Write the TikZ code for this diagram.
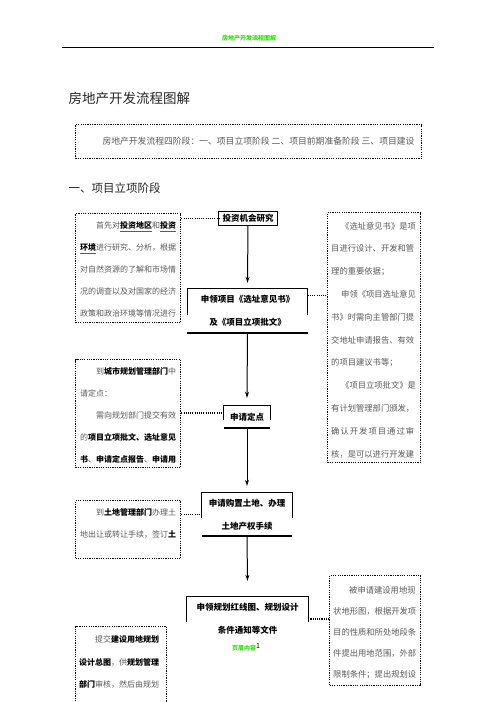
\documentclass[tikz,border=0pt]{standalone}
\usepackage{fontspec}
\setmainfont{Noto Sans CJK SC}
\usepackage{xcolor}
\usepackage{tikz}
\usetikzlibrary{arrows.meta, positioning, calc}
\definecolor{hdrgreen}{HTML}{33DD11}
\definecolor{notegray}{HTML}{5A5A5A}
\newcommand{\kw}[1]{\textbf{\textcolor{black}{#1}}}
\newcommand{\kwu}[1]{\underline{\textbf{\textcolor{black}{#1}}}}

\begin{document}
\begin{tikzpicture}[x=1pt, y=-1pt,
  note/.style={draw=black, line width=1.3pt, dash pattern=on 1.2pt off 1.1pt, inner sep=0pt, anchor=north west},
  notetext/.style={anchor=north west, inner sep=0pt, align=left, text=notegray},
  flow/.style={inner sep=0pt, align=center, font=\fontsize{8.5}{23}\selectfont\bfseries},
  frame/.style={line width=1.1pt},
  rule/.style={line width=1.8pt},
  link/.style={line width=1.2pt, dash pattern=on 1.1pt off 1.1pt},
  arrow/.style={line width=1pt, -{Stealth[length=6pt, width=4pt]}}]
\fill[white] (0,0) rectangle (496,702);
\useasboundingbox (0,0) rectangle (496,702);
% header
\node[font=\fontsize{6}{7}\selectfont\bfseries, text=hdrgreen] (hdr) at (249,38) {房地产开发流程图解};
\draw[line width=0.6pt] (62,47) -- (434,47);
\node[font=\fontsize{13.5}{16}\selectfont, text=black!85, anchor=west] (title) at (65,98) {房地产开发流程图解};
\node[note, minimum width=346, minimum height=34] (intro) at (75,124) {};
\node[font=\fontsize{8.8}{10}\selectfont, text=notegray, anchor=west] (introtxt) at (99,141)
  {房地产开发流程四阶段：一、项目立项阶段 二、项目前期准备阶段 三、项目建设};
\node[font=\fontsize{11.5}{14}\selectfont, text=black!85, anchor=west] (stage1) at (65,188) {一、项目立项阶段};
% main flow
\node[flow, minimum width=58, minimum height=13] (inv) at (248,218.5) {投资机会研究};
\draw[frame] (inv.south west) rectangle (inv.north east);
\node[flow, minimum width=120, minimum height=44] (apply) at (247.5,311) {申领项目《选址意见书》\\及《项目立项批文》};
\draw[frame] ([yshift=-26pt]apply.north west) -- (apply.north west) -- (apply.north east) -- ([yshift=-26pt]apply.north east);
\draw[rule] (apply.south west) -- (apply.south east);
\node[flow, minimum width=46, minimum height=22] (site) at (247,417) {申请定点};
\draw[frame] ([yshift=-14pt]site.north west) -- (site.north west) -- (site.north east) -- ([yshift=-14pt]site.north east);
\draw[rule] (site.south west) -- (site.south east);
\node[flow, minimum width=90, minimum height=43] (land) at (247,514.5) {申请购置土地、办理\\土地产权手续};
\draw[frame] ([yshift=-25pt]land.north west) -- (land.north west) -- (land.north east) -- ([yshift=-25pt]land.north east);
\draw[rule] (land.south west) -- (land.south east);
\node[flow, minimum width=121, minimum height=44] (plan) at (247.5,619) {申领规划红线图、规划设计\\条件通知等文件};
\draw[frame] ([yshift=-25pt]plan.north west) -- (plan.north west) -- (plan.north east) -- ([yshift=-25pt]plan.north east);
\node[font=\fontsize{6}{7}\selectfont\bfseries, text=hdrgreen, inner sep=0pt] (fn) at (246,647)
  {页眉内容\raisebox{2pt}{\textcolor{black}{\mdseries\fontsize{7}{8}\selectfont 1}}};
\draw[arrow] (inv.south) -- ([yshift=6pt]apply.north);
\draw[arrow] (apply.south) -- ([yshift=8pt]site.north);
\draw[arrow] (site.south) -- ([yshift=7pt]land.north);
\draw[arrow] (land.south) -- ([yshift=16pt]plan.north);
% left notes
\node[note, minimum width=105, minimum height=109] (n1) at (75,213) {};
\node[notetext, font=\fontsize{8}{21.8}\selectfont] (n1txt) at (80,221.8)
  {\hspace*{16pt}首先对\kwu{投资地区}和\kwu{投资}\\
   \kwu{环境}进行研究、分析，根据\\
   对自然资源的了解和市场情\\
   况的调查以及对国家的经济\\
   政策和政治环境等情况进行};
\node[note, minimum width=105, minimum height=108] (n2) at (75,359) {};
\node[notetext, font=\fontsize{8}{22}\selectfont] (n2txt) at (80,367.8)
  {\hspace*{16pt}到\kw{城市规划管理部门}中\\
   请定点：\\
   \hspace*{16pt}需向规划部门提交有效\\
   的\kw{项目立项批文、选址意见}\\
   \kw{书}、\kw{申请定点报告}、\kw{申请用}};
\node[note, minimum width=105, minimum height=58] (n3) at (75,500) {};
\node[notetext, font=\fontsize{8}{22}\selectfont] (n3txt) at (80,508.8)
  {\hspace*{16pt}到\kw{土地管理部门}办理土\\
   地出让或转让手续，签订\kw{土}};
\node[note, minimum width=91, minimum height=92] (n4) at (75,626) {};
\node[notetext, font=\fontsize{8}{22.5}\selectfont] (n4txt) at (79,635.8)
  {\hspace*{16pt}提交\kw{建设用地规划}\\
   \kw{设计总图}，供\kw{规划管理}\\
   \kw{部门}审核，然后由规划};
% right notes
\node[note, minimum width=93, minimum height=250] (r1) at (327,212) {};
\node[notetext, font=\fontsize{8.3}{22.8}\selectfont] (r1txt) at (331,221.8)
  {\hspace*{10pt}《选址意见书》是项\\
   目进行设计、开发和管\\
   理的重要依据；\\
   \hspace*{10pt}申领《项目选址意见\\
   书》时需向主管部门提\\
   交地址申请报告、有效\\
   的项目建议书等；\\
   \hspace*{10pt}《项目立项批文》是\\
   有计划管理部门颁发，\\
   \makebox[83pt][s]{确\hfil 认\hfil 开\hfil 发\hfil 项\hfil 目\hfil 通\hfil 过\hfil 审}\\
   核，是可以进行开发建};
\node[note, minimum width=91, minimum height=110] (r2) at (329,575) {};
\node[notetext, font=\fontsize{8.3}{20.8}\selectfont] (r2txt) at (333,586.8)
  {\hspace*{16pt}被申请建设用地现\\
   状地形图，根据开发项\\
   目的性质和所处地段条\\
   件提出用地范围，外部\\
   限制条件；提出规划设};
% dotted links
\draw[link] (n1.east |- inv.west) -- (inv.west);
\coordinate (c2) at ([yshift=-7pt]apply.north east);
\draw[link] (c2) -- (c2 -| r1.west);
\coordinate (c3) at ([yshift=4pt]site.west);
\draw[link] (n2.east |- c3) -- (c3);
\draw[link] (n3.east |- land.west) -- (land.west);
\draw[link] (plan.east) -- (plan.east -| r2.west);
\end{tikzpicture}
\end{document}
